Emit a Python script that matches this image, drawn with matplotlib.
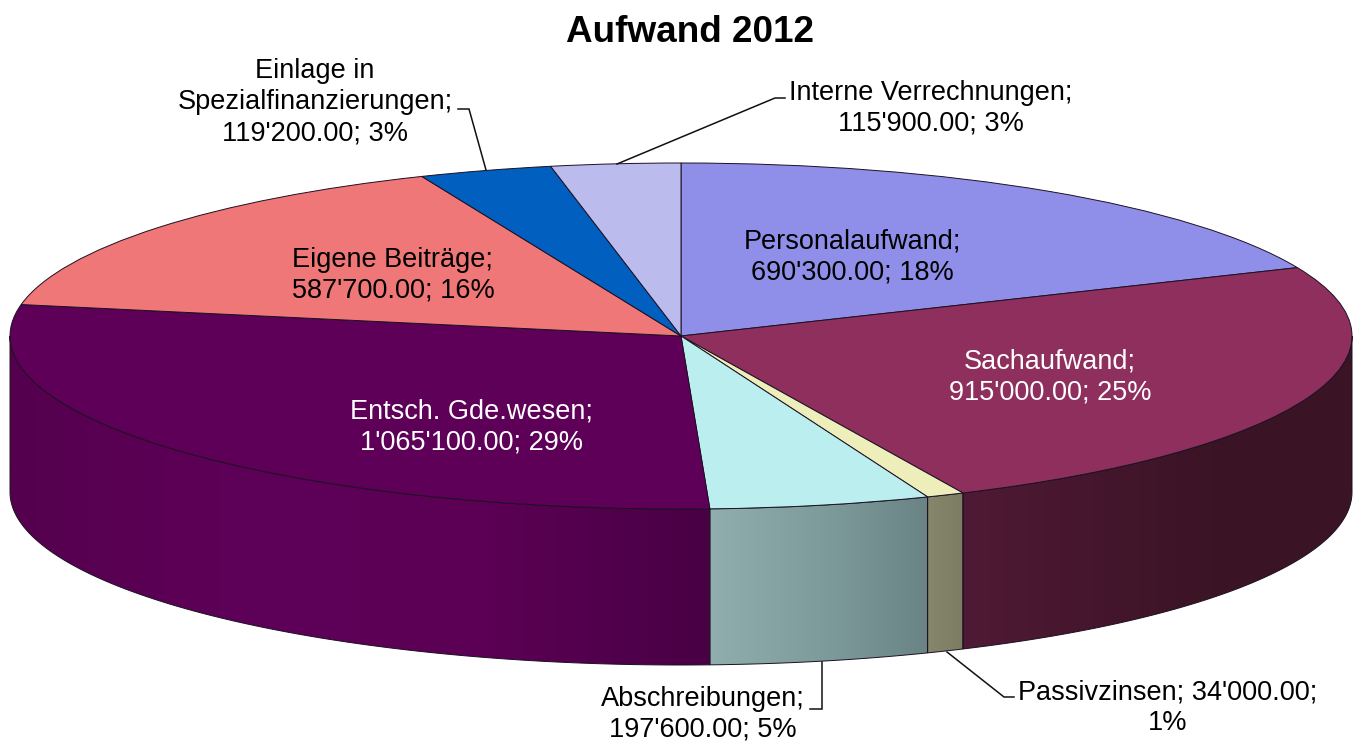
#!/usr/bin/env python3
# Aufwand 2012 - flat 3D looking pie
import numpy as np
import matplotlib
matplotlib.use('Agg')
import matplotlib.pyplot as plt
from matplotlib.colors import LinearSegmentedColormap
from matplotlib.patches import Polygon

plt.rcParams['font.family'] = ['Liberation Sans', 'DejaVu Sans']

categories = ['Personalaufwand', 'Sachaufwand', 'Passivzinsen', 'Abschreibungen',
              'Entsch. Gde.wesen', 'Eigene Beiträge', 'Einlage in Spezialfinanzierungen',
              'Interne Verrechnungen']
values = [690300, 915000, 34000, 197600, 1065100, 587700, 119200, 115900]
value_labels = ["690'300.00", "915'000.00", "34'000.00", "197'600.00",
                "1'065'100.00", "587'700.00", "119'200.00", "115'900.00"]
percent_labels = ['18%', '25%', '1%', '5%', '29%', '16%', '3%', '3%']

top_colors = ['#8f8fe9', '#8e2f5e', '#eeeebb', '#bbeeee', '#5e0058', '#ef7777', '#005fbf', '#bbbbee']
side_colors = [
    ['#8f8fe9', '#8f8fe9'],
    ['#4f1a35', '#45162d', '#3a1425', '#3a1425'],
    ['#86866c', '#7c7c62'],
    ['#90aeae', '#7f9c9c', '#6a8485'],
    ['#55004f', '#5e0058', '#5c0056', '#490044'],
    ['#ef7777', '#ef7777'],
    ['#005fbf', '#005fbf'],
    ['#bbbbee', '#bbbbee'],
]

W, H = 1359, 744
CX, CY = 681, 336      # centre of the top ellipse, pixels
RX, RY = 671, 173      # half axes of the top ellipse, pixels
DEPTH = 156 / RY       # wall height in axes units


def px(x, y):
    return (x - CX) / RX, (CY - y) / RY


fig = plt.figure(figsize=(W / 100, H / 100), dpi=100)
ax = fig.add_axes([0, 0, 1, 1])

wedges, _ = ax.pie(values, startangle=90, counterclock=False, colors=top_colors,
                   wedgeprops={'edgecolor': '#1c1022', 'linewidth': 0.7})
for w in wedges:
    w.set_zorder(3)

# side wall, only the front half of the rim can be seen
for w, cols in zip(wedges, side_colors):
    t1, t2 = w.theta1 % 360, w.theta2 % 360
    if t2 <= t1:
        t2 += 360
    lo = max(t1, 180)
    hi = min(t2, 360)
    if hi <= lo:
        continue
    t = np.radians(np.linspace(lo, hi, 120))
    x = np.cos(t)
    y = np.sin(t)
    pts = np.column_stack([np.r_[x, x[::-1]], np.r_[y, y[::-1] - DEPTH]])
    poly = Polygon(pts, closed=True, facecolor='none', edgecolor='#1c1022', linewidth=0.7, zorder=2.5)
    ax.add_patch(poly)
    cmap = LinearSegmentedColormap.from_list('side', cols)
    im = ax.imshow(np.linspace(0, 1, 256).reshape(1, -1), cmap=cmap, aspect='auto', zorder=2,
                   extent=[x.min(), x.max(), pts[:, 1].min(), pts[:, 1].max()])
    im.set_clip_path(poly)

ax.set_aspect('auto')
ax.set_xlim(px(0, 0)[0], px(W, 0)[0])
ax.set_ylim(px(0, H)[1], px(0, 0)[1])
ax.axis('off')


def label(x, y, text, color='black'):
    ax.text(*px(x, y), text, ha='center', va='center', fontsize=19.5, color=color,
            linespacing=1.25, zorder=6)


def leader(points):
    xs, ys = zip(*[px(*p) for p in points])
    ax.plot(xs, ys, color='#111111', lw=1.1, zorder=5, solid_joinstyle='miter')


label(852, 257, f"{categories[0]};\n{value_labels[0]}; {percent_labels[0]}")
label(1050, 377, f"{categories[1]};\n{value_labels[1]}; {percent_labels[1]}", 'white')
label(1168, 708, f"{categories[2]}; {value_labels[2]};\n{percent_labels[2]}")
label(703, 714, f"{categories[3]};\n{value_labels[3]}; {percent_labels[3]}")
label(472, 427, f"{categories[4]};\n{value_labels[4]}; {percent_labels[4]}", 'white')
label(393, 275, f"{categories[5]};\n{value_labels[5]}; {percent_labels[5]}")
label(315, 102, f"Einlage in\nSpezialfinanzierungen;\n{value_labels[6]}; {percent_labels[6]}")
label(931, 108, f"{categories[7]};\n{value_labels[7]}; {percent_labels[7]}")

leader([(458, 109), (469, 109), (486, 170)])
leader([(785, 98), (775, 98), (617, 164)])
leader([(810, 709), (822, 709), (822, 662)])
leader([(1014, 697), (1004, 697), (947, 652)])

ax.text(*px(690, 32), 'Aufwand 2012', ha='center', va='center', fontsize=26.6, fontweight='bold', zorder=6)

fig.savefig('out.png', dpi=100)
